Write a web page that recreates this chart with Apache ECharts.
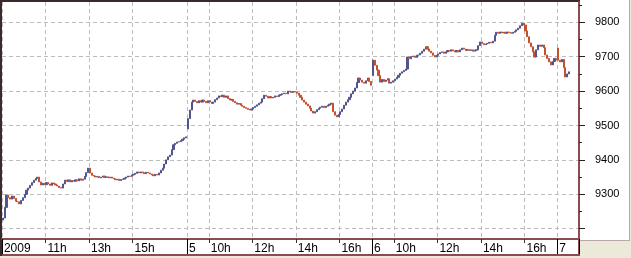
<!DOCTYPE html>
<html><head><meta charset="utf-8">
<script src="https://cdn.jsdelivr.net/npm/echarts@6/dist/echarts.min.js"></script>
<style>
html,body{margin:0;padding:0;background:#ECE9D8;}
#wrap{position:relative;width:631px;height:258px;}
.bg{position:absolute;box-sizing:border-box;background:#fff;}
#c{position:absolute;left:0;top:0;width:631px;height:258px;}
</style>
</head><body><div id="wrap">
<div class="bg" style="left:0;top:0;width:630px;height:241px;border-right:1px solid #b8a8a8;border-bottom:1px solid #b8a8a8;"></div>
<div class="bg" style="left:0;top:239px;width:580px;height:17px;border-bottom:2px solid #8c4a55;border-right:2px solid #8c4a55;"></div>
<div class="bg" style="left:0;top:0;width:580px;height:2px;background:#3a2a2a;"></div>
<div class="bg" style="left:0;top:0;width:2px;height:256px;background:#3a2a2a;"></div>
<div id="c"></div></div>
<script>
const dayDates = ["2009-01-02", "2009-01-05", "2009-01-06", "2009-01-07"];
const dayLastTime = ["17:25", "17:25", "17:25", "09:55"];
const dayOpens = [9225, 9490, 9645, 9725];
const closesJan02 = [
 9231, 9262, 9298, 9290, 9286, 9295, 9288, 9280, 9278, 9272,
 9282, 9290, 9300, 9312, 9318, 9326, 9334, 9341, 9346, 9350,
 9336, 9327, 9332, 9328, 9334, 9330, 9326, 9333, 9330, 9327,
 9324, 9320, 9318, 9330, 9341, 9337, 9342, 9336, 9340, 9338,
 9342, 9339, 9345, 9341, 9344, 9352, 9363, 9376, 9362, 9355,
 9353, 9350, 9352, 9348, 9350, 9353, 9349, 9351, 9348, 9350,
 9347, 9345, 9342, 9344, 9340, 9343, 9344, 9347, 9350, 9353,
 9352, 9356, 9358, 9361, 9365, 9362, 9365, 9363, 9360, 9364,
 9362, 9359, 9356, 9354, 9358, 9356, 9362, 9370, 9376, 9388,
 9400, 9409, 9414, 9430, 9444, 9448, 9452, 9453, 9456, 9460, 9464, 9467];
const closesJan05 = [
 9520, 9545, 9568, 9574, 9570, 9566, 9572, 9568, 9574, 9570,
 9566, 9572, 9568, 9564, 9568, 9575, 9580, 9586, 9584, 9588,
 9582, 9586, 9578, 9574, 9576, 9570, 9566, 9562, 9564, 9559,
 9556, 9552, 9550, 9547, 9545, 9548, 9552, 9556, 9560, 9565,
 9568, 9578, 9588, 9585, 9580, 9584, 9580, 9582, 9586, 9584,
 9588, 9590, 9592, 9594, 9592, 9600, 9598, 9596, 9599, 9597,
 9594, 9588, 9582, 9574, 9568, 9562, 9557, 9550, 9542, 9536,
 9540, 9546, 9550, 9553, 9556, 9552, 9556, 9559, 9562, 9565,
 9540, 9530, 9525, 9532, 9540, 9548, 9559, 9568, 9575, 9582,
 9592, 9600, 9609, 9625, 9638, 9632, 9626, 9623, 9630, 9638, 9628, 9617];
const closesJan06 = [
 9690, 9675, 9661, 9645, 9626, 9634, 9628, 9632, 9636, 9623,
 9626, 9630, 9635, 9640, 9646, 9652, 9656, 9660, 9664, 9699,
 9694, 9700, 9702, 9698, 9704, 9705, 9710, 9716, 9722, 9729,
 9722, 9716, 9711, 9704, 9699, 9704, 9708, 9712, 9714, 9710,
 9714, 9718, 9716, 9720, 9717, 9714, 9718, 9714, 9720, 9725,
 9722, 9718, 9721, 9718, 9720, 9716, 9719, 9720, 9732, 9743,
 9738, 9735, 9737, 9739, 9742, 9740, 9745, 9762, 9771, 9768,
 9772, 9769, 9771, 9768, 9772, 9770, 9768, 9771, 9774, 9778,
 9783, 9790, 9797, 9792, 9775, 9758, 9740, 9729, 9714, 9699,
 9720, 9734, 9730, 9734, 9726, 9705, 9695, 9685, 9676, 9686, 9695, 9690];
const closesJan07 = [9690, 9685, 9692, 9668, 9641, 9650, 9656];
const dayCloses = [closesJan02, closesJan05, closesJan06, closesJan07];

const tickTimes = ["2009-01-02 09:00", "2009-01-02 11:00", "2009-01-02 13:00", "2009-01-02 15:00",
 "2009-01-05 09:00", "2009-01-05 10:00", "2009-01-05 12:00", "2009-01-05 14:00", "2009-01-05 16:00",
 "2009-01-06 09:00", "2009-01-06 10:00", "2009-01-06 12:00", "2009-01-06 14:00", "2009-01-06 16:00",
 "2009-01-07 09:00"];
const tickTexts = ["2009", "11h", "13h", "15h", "5", "10h", "12h", "14h", "16h", "6", "10h", "12h", "14h", "16h", "7"];
const yTickValues = [9200, 9300, 9400, 9500, 9600, 9700, 9800];
const yLabelValues = [9300, 9400, 9500, 9600, 9700, 9800];
const yMinorValues = [9250, 9350, 9450, 9550, 9650, 9750, 9850];

const pad = n => (n < 10 ? '0' : '') + n;
const categories = [];
const ohlc = [];
dayDates.forEach((d, i) => {
  const [eh, em] = dayLastTime[i].split(':').map(Number);
  const cl = dayCloses[i];
  let j = 0;
  for (let m = 9 * 60; m <= eh * 60 + em; m += 5, j++) {
    categories.push(d + ' ' + pad(Math.floor(m / 60)) + ':' + pad(m % 60));
    if (j < cl.length) {
      const o = j === 0 ? dayOpens[i] : cl[j - 1];
      const c = cl[j];
      ohlc.push([o, c, Math.min(o, c), Math.max(o, c)]);
    }
  }
});
const tickMap = {};
tickTimes.forEach((t, i) => tickMap[t] = tickTexts[i]);
const isTick = (i, v) => tickMap[v] !== undefined;
const isHourTick = (i, v) => tickMap[v] !== undefined && !v.endsWith('09:00');
const isDayTick = (i, v) => v.endsWith('09:00');

const chart = echarts.init(document.getElementById('c'));
const grid = '#bdbdbd';
chart.setOption({
  animation: false,
  backgroundColor: 'transparent',
  grid: { left: 2, right: 52, top: 2, bottom: 19 },
  xAxis: [{
    type: 'category', data: categories, boundaryGap: true, position: 'bottom',
    axisLine: { show: true, lineStyle: { color: '#8c4a55', width: 2 } },
    axisTick: { show: true, interval: isHourTick, length: 4, lineStyle: { color: '#333' } },
    axisLabel: { show: true, interval: isTick, formatter: v => tickMap[v] || '', align: 'left',
      color: '#000', fontSize: 12, fontFamily: 'Liberation Sans, Arial, sans-serif', margin: 4, padding: [0, 0, 0, 1] },
    splitLine: { show: true, interval: isTick, lineStyle: { color: grid, type: [4, 3], width: 1 } }
  }, {
    type: 'category', data: categories, boundaryGap: true, position: 'bottom',
    axisLine: { show: false },
    axisTick: { show: true, interval: isDayTick, length: 15, lineStyle: { color: '#000', width: 1 } },
    axisLabel: { show: false }, splitLine: { show: false }
  }],
  yAxis: [{
    type: 'value', position: 'right', min: 9170, max: 9859, scale: true,
    axisLine: { show: true, lineStyle: { color: '#8c4a55', width: 2 } },
    axisTick: { show: true, customValues: yTickValues, length: 6, lineStyle: { color: '#222' } },
    axisLabel: { show: true, customValues: yLabelValues, formatter: v => String(v), color: '#000', fontSize: 11,
      fontFamily: 'Liberation Sans, Arial, sans-serif', margin: 16 },
    splitLine: { show: true, lineStyle: { color: grid, type: [4, 3], width: 1 } }
  }, {
    type: 'value', position: 'right', min: 9170, max: 9859, scale: true,
    axisLine: { show: false },
    axisTick: { show: true, customValues: yMinorValues, length: 3, lineStyle: { color: '#222' } },
    axisLabel: { show: false }, splitLine: { show: false }
  }],
  series: [{
    type: 'candlestick', data: ohlc, xAxisIndex: 0, yAxisIndex: 0,
    barWidth: 1.6,
    itemStyle: { color: '#54548c', borderColor: '#54548c', color0: '#c4502e', borderColor0: '#c4502e', borderWidth: 1 }
  }]
});
</script></body></html>
